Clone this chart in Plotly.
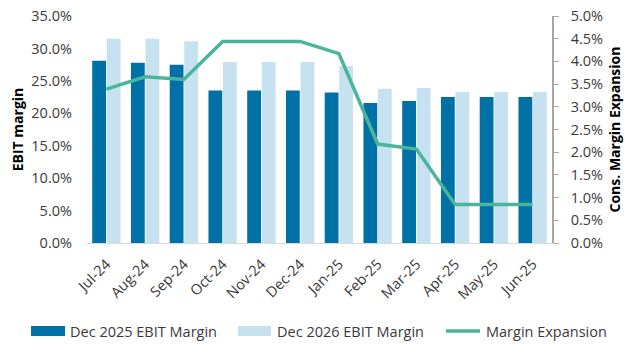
import plotly.graph_objects as go

# Monthly consensus snapshots
months = ["Jul-24", "Aug-24", "Sep-24", "Oct-24", "Nov-24", "Dec-24",
          "Jan-25", "Feb-25", "Mar-25", "Apr-25", "May-25", "Jun-25"]
ebit_2025 = [0.281, 0.278, 0.275, 0.235, 0.235, 0.235,
             0.232, 0.216, 0.219, 0.225, 0.225, 0.225]
ebit_2026 = [0.315, 0.315, 0.311, 0.279, 0.279, 0.279,
             0.273, 0.238, 0.239, 0.233, 0.233, 0.233]
margin_exp = [0.0339, 0.0366, 0.0360, 0.0444, 0.0444, 0.0444,
              0.0417, 0.0218, 0.0207, 0.0085, 0.0085, 0.0085]

names = ["Dec 2025 EBIT Margin", "Dec 2026 EBIT Margin", "Margin Expansion"]

DARK = "#0071A7"
LIGHT = "#C6E2F1"
TEAL = "#4AB59B"
TXT = "#3A3A3A"
FONT = "Open Sans"
FS = 14.5

W, H = 625, 345
L, R, T, B = 87, 73, 16, 102
PW, PH = W - L - R, H - T - B

fig = go.Figure()
fig.add_trace(go.Bar(x=months, y=ebit_2025, name=names[0], marker_color=DARK,
                     marker_line_width=0, showlegend=False))
fig.add_trace(go.Bar(x=months, y=ebit_2026, name=names[1], marker_color=LIGHT,
                     marker_line_width=0, showlegend=False))
fig.add_trace(go.Scatter(x=months, y=margin_exp, name=names[2], mode="lines",
                         line=dict(color=TEAL, width=3.5), yaxis="y2",
                         showlegend=False))


def px_x(x):
    return (x - L) / PW


def px_y(y):
    return (H - B - y) / PH


# Legend drawn below the plot: swatch + label per series
legend_items = [
    (names[0], "bar", DARK, 31, 65, 68),
    (names[1], "bar", LIGHT, 238, 271, 275),
    (names[2], "line", TEAL, 446, 480, 484),
]
shapes = []
annotations = []
ly = 331
for label, kind, color, x0, x1, tx in legend_items:
    if kind == "bar":
        shapes.append(dict(type="rect", xref="paper", yref="paper",
                           x0=px_x(x0), x1=px_x(x1),
                           y0=px_y(ly + 5), y1=px_y(ly - 5),
                           fillcolor=color, line_width=0))
    else:
        shapes.append(dict(type="line", xref="paper", yref="paper",
                           x0=px_x(x0), x1=px_x(x1),
                           y0=px_y(ly), y1=px_y(ly),
                           line=dict(color=color, width=3.5)))
    annotations.append(dict(text=label, xref="paper", yref="paper",
                            x=px_x(tx), y=px_y(ly),
                            xanchor="left", yanchor="middle", showarrow=False,
                            font=dict(family=FONT, size=FS, color=TXT)))

fig.update_layout(
    width=W, height=H,
    margin=dict(l=L, r=R, t=T, b=B, autoexpand=False),
    plot_bgcolor="white", paper_bgcolor="white",
    barmode="group", bargap=0.25, bargroupgap=0.05,
    font=dict(family=FONT, size=FS, color=TXT),
    xaxis=dict(tickangle=-45, showgrid=False, showline=True,
               linecolor="#D9D9D9", linewidth=1, ticks="",
               ticklabelstandoff=6, automargin=False,
               tickfont=dict(size=FS, color=TXT)),
    yaxis=dict(range=[0, 0.35], dtick=0.05, tickformat=".1%",
               showgrid=False, showline=False, zeroline=False,
               ticklabelstandoff=14, automargin=False,
               title=dict(text="<b>EBIT margin</b>", standoff=4,
                          font=dict(size=14, color="black"))),
    yaxis2=dict(range=[0, 0.05], dtick=0.005, tickformat=".1%",
                overlaying="y", side="right", showgrid=False,
                showline=True, linecolor="#A6A6A6", linewidth=1.5,
                ticks="outside", ticklen=5, tickcolor="#A6A6A6",
                zeroline=False, ticklabelstandoff=9, automargin=False,
                title=dict(text="<b>Cons. Margin Expansion</b>", standoff=8,
                           font=dict(size=14, color="black"))),
    shapes=shapes,
    annotations=annotations,
)

fig.write_html("out.html")
